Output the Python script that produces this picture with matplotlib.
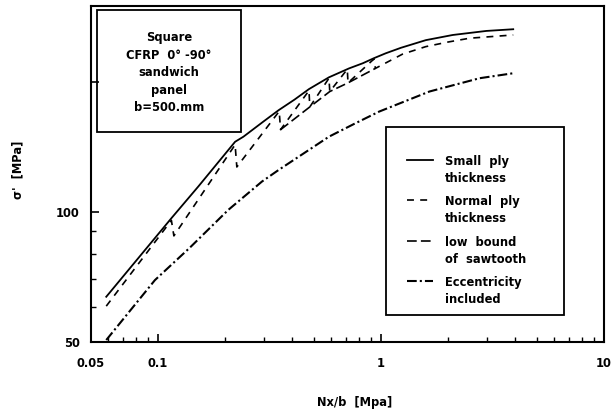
import matplotlib
matplotlib.use("Agg")
import matplotlib.pyplot as plt
from matplotlib.patches import Rectangle
from matplotlib.ticker import FixedLocator, NullFormatter

plt.rcParams["font.family"] = ["DejaVu Sans"]
plt.rcParams["font.weight"] = "bold"
plt.rcParams["lines.scale_dashes"] = False

# small ply thickness (solid)
small_x = [0.0587, 0.115, 0.152, 0.222, 0.242, 0.298, 0.348, 0.41, 0.476, 0.585,
           0.72, 0.83, 0.93, 1.05, 1.23, 1.59, 2.1, 2.97, 3.92]
small_y = [63.5, 96.6, 114.5, 145.3, 149.3, 162, 172, 182, 192.5, 205,
           215, 221, 227, 233, 240, 250, 257, 262.6, 265]

# normal ply thickness (sawtooth)
normal_x = [0.0587, 0.115, 0.118, 0.222, 0.226, 0.35, 0.355, 0.476, 0.48, 0.585, 0.59,
            0.707, 0.712, 0.93, 0.945, 1.25, 1.59, 2.0, 2.5, 3.92]
normal_y = [60.4, 95.5, 87.9, 143, 127, 171, 155, 191, 175, 204, 190,
            214, 199, 226, 215, 232, 241.5, 247.5, 252.6, 257]

# low bound of sawtooth
low_x = [0.355, 0.48, 0.59, 0.712, 0.945]
low_y = [155, 175, 190, 199, 215]

# eccentricity included
ecc_x = [0.0587, 0.097, 0.139, 0.207, 0.293, 0.348, 0.585, 0.758, 0.982, 1.65, 2.77, 3.92]
ecc_y = [50.4, 69.4, 82.5, 101, 117.5, 125, 149.3, 159.8, 170.7, 190, 204, 209.5]

x_ticks = [0.05, 0.1, 1, 10]
x_tick_labels = ["0.05", "0.1", "1", "10"]
y_ticks = [50, 100, 200]
y_tick_labels = ["50", "100", ""]

legend_labels = ["Small  ply\nthickness", "Normal  ply\nthickness",
                 "low  bound\nof  sawtooth", "Eccentricity\nincluded"]
info_text = "Square\nCFRP  0\u00b0 -90\u00b0\nsandwich\npanel\nb=500.mm"

solid_style = dict(color="black", lw=1.3, linestyle="-")
normal_style = dict(color="black", lw=1.2, linestyle=(0, (5, 4.5)))
low_style = dict(color="black", lw=1.2, linestyle=(0, (7, 3)))
ecc_style = dict(color="black", lw=1.5, linestyle=(0, (7, 2.2, 1.5, 2.2)))

fig = plt.figure(figsize=(6.15, 4.17), dpi=100)
ax = fig.add_axes([0.1475, 0.181, 0.8345, 0.8046])

ax.plot(small_x, small_y, **solid_style)
ax.plot(normal_x, normal_y, **normal_style)
ax.plot(low_x, low_y, **low_style)
ax.plot(ecc_x, ecc_y, **ecc_style)

ax.set_xscale("log")
ax.set_yscale("log")
ax.set_xlim(0.05, 10)
ax.set_ylim(50, 300)

ax.xaxis.set_major_locator(FixedLocator(x_ticks))
ax.set_xticklabels(x_tick_labels)
ax.xaxis.set_minor_locator(FixedLocator([0.06, 0.07, 0.08, 0.09, 0.2, 0.3, 0.4, 0.5, 0.6, 0.7,
                                         0.8, 0.9, 2, 3, 4, 5, 6, 7, 8, 9]))
ax.xaxis.set_minor_formatter(NullFormatter())
ax.yaxis.set_major_locator(FixedLocator(y_ticks))
ax.set_yticklabels(y_tick_labels)
ax.yaxis.set_minor_locator(FixedLocator([60, 70, 80, 90]))
ax.yaxis.set_minor_formatter(NullFormatter())

ax.tick_params(which="major", direction="in", length=6, width=1.2, labelsize=8.3, pad=11)
ax.tick_params(which="minor", direction="in", length=3.5, width=1.0)
ax.tick_params(axis="y", which="major", pad=8)
for s in ax.spines.values():
    s.set_linewidth(1.5)

ax.set_xlabel("Nx/b  [Mpa]", fontsize=8.3, fontweight="bold")
ax.xaxis.set_label_coords(0.515, -0.162)
ax.set_ylabel("\u03c3'  [MPa]", fontsize=8.3, fontweight="bold")
ax.yaxis.set_label_coords(-0.13, 0.511)

# info box
ax.add_patch(Rectangle((0.0123, 0.6244), 0.2805, 0.3636, transform=ax.transAxes,
                       fill=False, lw=1.3, ec="black"))
ax.text(0.1525, 0.8015, info_text, transform=ax.transAxes, ha="center", va="center",
        fontsize=8.3, fontweight="bold", linespacing=1.45)

# legend box
ax.add_patch(Rectangle((0.575, 0.079), 0.348, 0.561, transform=ax.transAxes,
                       fill=False, lw=1.3, ec="black"))
styles = [solid_style, normal_style, low_style, ecc_style]
rows = [160, 200, 241, 281]
for lab, st, r in zip(legend_labels, styles, rows):
    ya = (341.5 - r) / 335.5
    ax.plot([0.616, 0.667], [ya, ya], transform=ax.transAxes, **st)
    ax.text(0.690, ya + 0.016, lab, transform=ax.transAxes, ha="left", va="top",
            fontsize=8.3, fontweight="bold", linespacing=1.45)

fig.savefig("out.png", dpi=100)
